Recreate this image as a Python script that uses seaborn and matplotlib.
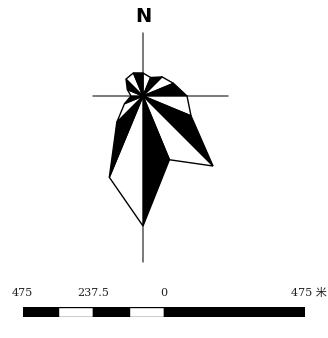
import numpy as np
import matplotlib
matplotlib.use("Agg")
import matplotlib.pyplot as plt
import seaborn as sns

# 16 directions, clockwise from north
directions = ["N", "NNE", "NE", "ENE", "E", "ESE", "SE", "SSE",
              "S", "SSW", "SW", "WSW", "W", "WNW", "NW", "NNW"]
freq = [23, 20, 27, 33, 44, 52, 99, 69, 130, 88, 37, 20, 12, 17, 24, 25]

# scale bar (metres)
bar_edges = [-475, -356.25, -237.5, -118.75, 0, 475]
bar_ticks = [-475, -237.5, 0]
bar_labels = ["475", "237.5", "0"]
bar_end_label = "475 米"

sns.set_theme(style="white")
plt.rcParams["font.family"] = ["DejaVu Sans", "Noto Sans CJK SC"]

fig = plt.figure(figsize=(3.28, 3.38), dpi=100)

# rose
ax = fig.add_axes([0, 68 / 338, 1, 270 / 338])
ax.set_xlim(-143, 185)
ax.set_ylim(-174, 96)
ax.axis("off")

theta = np.deg2rad(np.arange(len(freq)) * 22.5)
r = np.array(freq, dtype=float)
xs = r * np.sin(theta)
ys = r * np.cos(theta)

ax.plot([0, 0], [-166, 63], color="#555555", lw=1.1, zorder=1)
ax.plot([-50, 85], [0, 0], color="#555555", lw=1.1, zorder=1)

n = len(freq)
for k in range(n):
    j = (k + 1) % n
    col = "white" if k % 2 == 0 else "black"
    ax.fill([0, xs[k], xs[j]], [0, ys[k], ys[j]], facecolor=col,
            edgecolor="black", linewidth=1.0, zorder=2)

ax.text(0, 79, "N", ha="center", va="center", fontsize=14,
        fontweight="bold", color="black")

# scale bar
sb = fig.add_axes([22.7 / 328, 20.7 / 338, 282.3 / 328, 10.6 / 338])
sb.set_xlim(-475, 475)
sb.set_ylim(0, 1)
sb.axis("off")
for i in range(len(bar_edges) - 1):
    col = "black" if i % 2 == 0 else "white"
    sb.barh(0.5, bar_edges[i + 1] - bar_edges[i], left=bar_edges[i],
            height=1, color=col, edgecolor="black", linewidth=1.0)

serif = ["DejaVu Serif", "Noto Sans CJK SC"]
tr = sb.get_xaxis_transform()
for xv, lab in zip(bar_ticks, bar_labels):
    sb.text(xv, 2.3, lab, transform=tr, ha="center", va="center",
            fontsize=8, family=serif, color="#222222")
fig.text(0.997, 1 - 293 / 338, bar_end_label, ha="right", va="center",
         fontsize=8, family=serif, color="#222222")

fig.savefig("out.png", dpi=100)
